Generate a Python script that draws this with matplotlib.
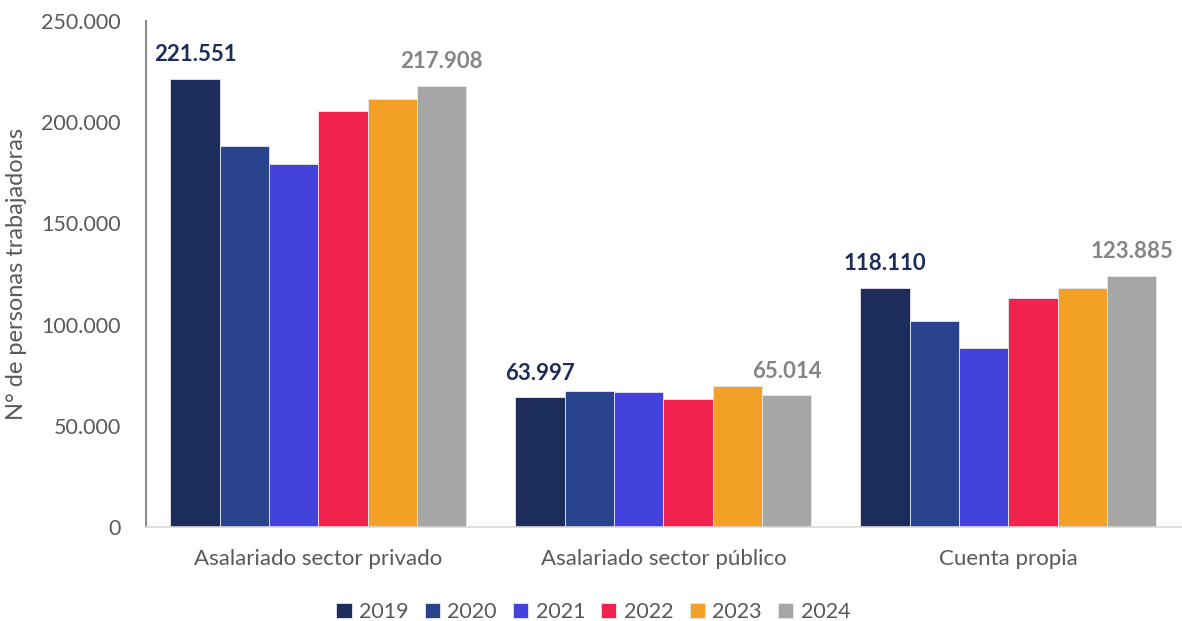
import matplotlib.pyplot as plt
from matplotlib.ticker import FuncFormatter

plt.rcParams['font.family'] = ['Lato', 'DejaVu Sans']

categories = ['Asalariado sector privado', 'Asalariado sector público', 'Cuenta propia']
years = ['2019', '2020', '2021', '2022', '2023', '2024']
values = {
    '2019': [221551, 63997, 118110],
    '2020': [188200, 67200, 101800],
    '2021': [179300, 66700, 88400],
    '2022': [205500, 63200, 113100],
    '2023': [211500, 69700, 118100],
    '2024': [217908, 65014, 123885],
}
colors = ['#1C2D5C', '#29438C', '#4343DB', '#F2224F', '#F3A026', '#A6A6A6']
label_years = {'2019': '#1C2D5C', '2024': '#858585'}


def fmt(v, pos=None):
    return f'{int(v):,}'.replace(',', '.')


fig = plt.figure(figsize=(11.82, 6.21), dpi=100)
ax = fig.add_axes([0.1235, 0.1514, 0.8755, 0.8148])

n = len(years)
width = 0.143
x = range(len(categories))
for i, year in enumerate(years):
    offs = [xi + (i - (n - 1) / 2) * width for xi in x]
    bars = ax.bar(offs, values[year], width, color=colors[i], label=year,
                  edgecolor='#E8E8F0', linewidth=0.6, zorder=2)
    if year in label_years:
        for b, v in zip(bars, values[year]):
            ax.annotate(fmt(v), (b.get_x() + b.get_width() / 2, v),
                        xytext=(0, 10), textcoords='offset points',
                        ha='center', va='bottom', fontsize=16, fontweight='bold',
                        color=label_years[year])

ax.set_xlim(-0.5, 2.5)
ax.set_ylim(0, 250000)
ax.set_yticks(range(0, 250001, 50000))
ax.yaxis.set_major_formatter(FuncFormatter(fmt))
ax.set_xticks(list(x))
ax.set_xticklabels(categories)
ax.tick_params(axis='both', length=0, labelcolor='#595959')
ax.tick_params(axis='x', labelsize=16, pad=16)
ax.tick_params(axis='y', labelsize=15.5, pad=18)
ax.set_ylabel('N° de personas trabajadoras', fontsize=17, color='#595959', labelpad=10)

for s in ['top', 'right']:
    ax.spines[s].set_visible(False)
ax.spines['left'].set_color('#8C8C8C')
ax.spines['left'].set_linewidth(1.5)
ax.spines['bottom'].set_color('#D9D9D9')
ax.spines['bottom'].set_linewidth(1.2)

fig.legend(loc='lower center', bbox_to_anchor=(0.502, -0.033), ncol=6, frameon=False,
           fontsize=15.5, handlelength=0.7, handleheight=0.7, handletextpad=0.35,
           columnspacing=0.75, labelcolor='#595959')

fig.savefig('out.png', dpi=100)
